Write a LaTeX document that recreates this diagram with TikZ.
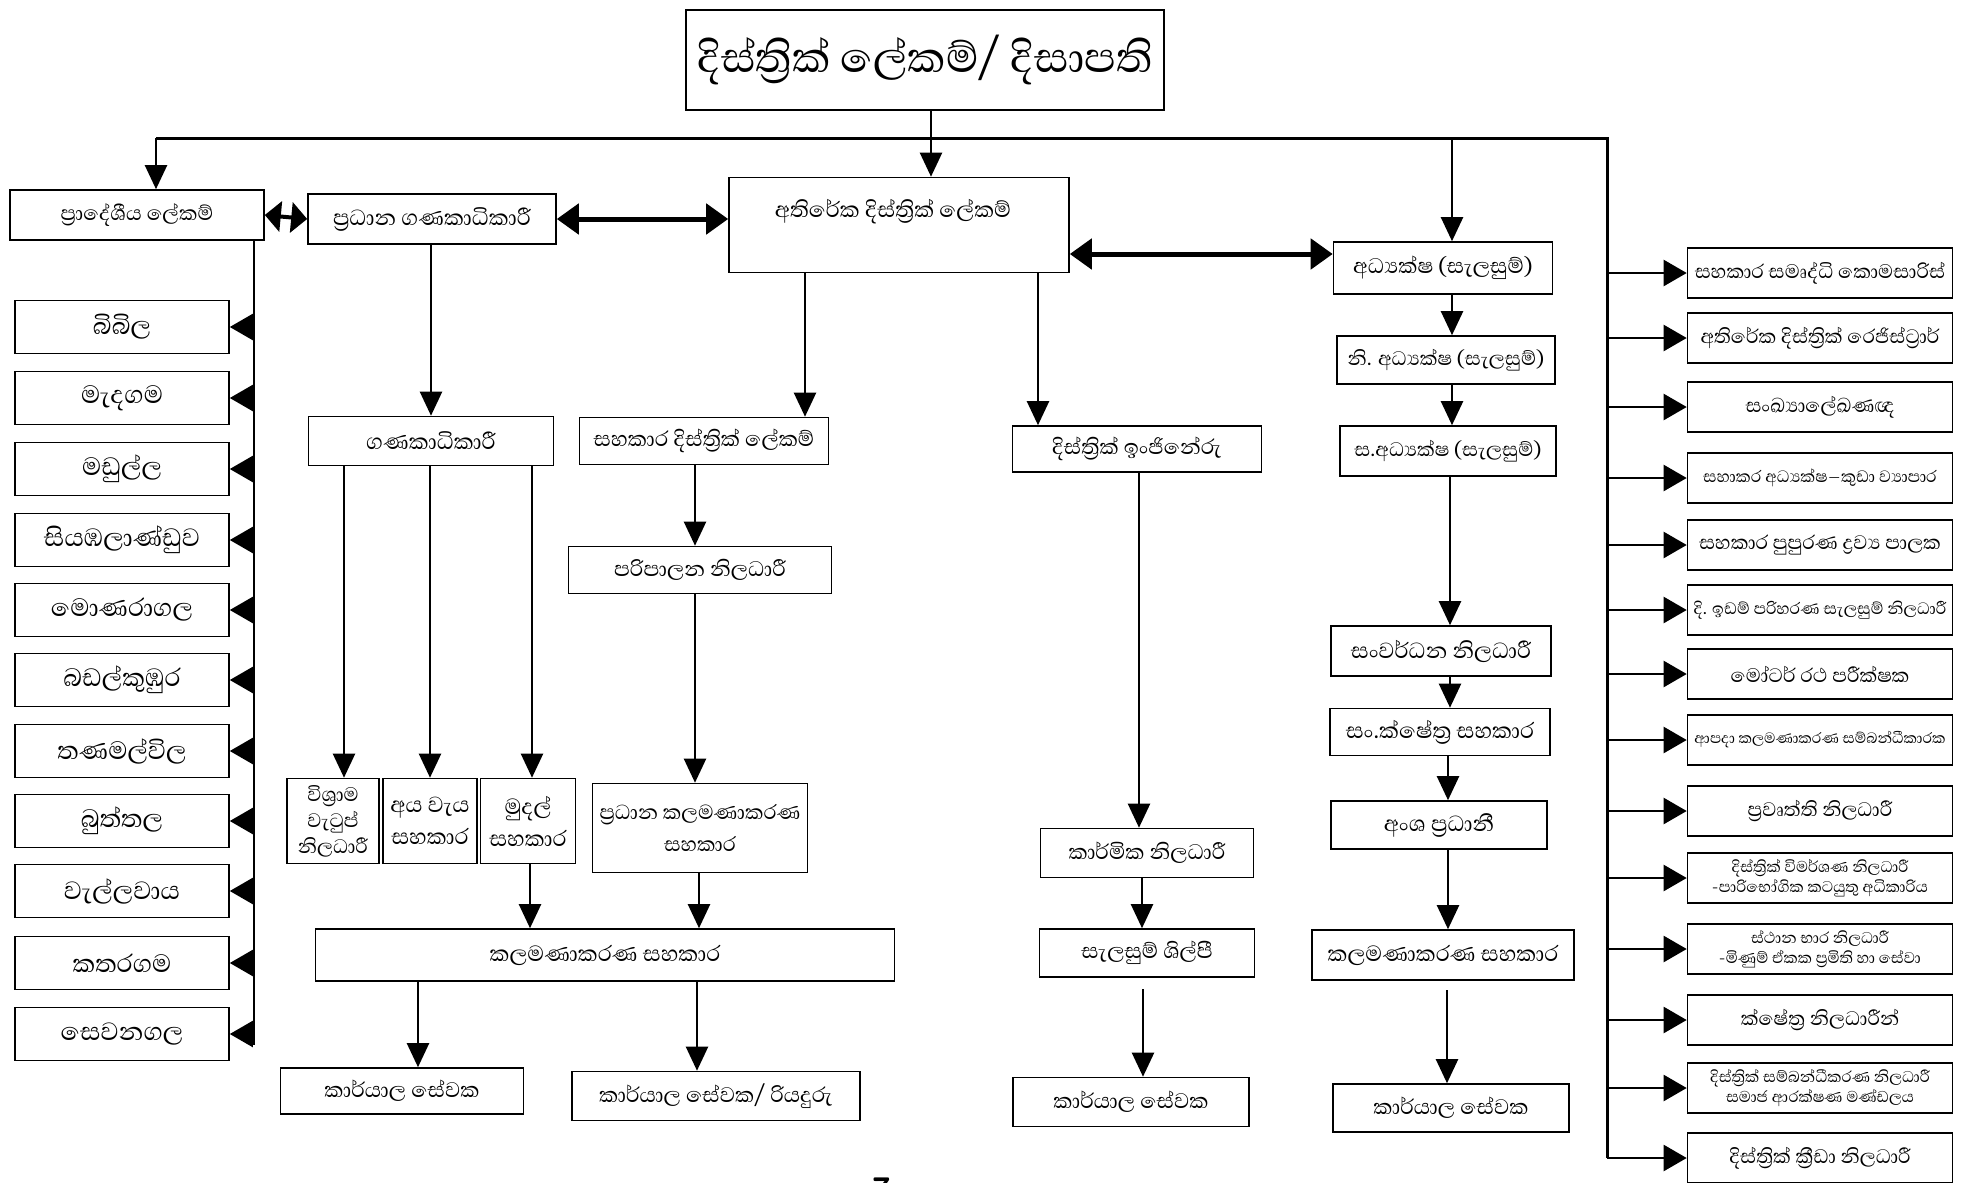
\documentclass[tikz,border=0pt]{standalone}
\usepackage{fontspec}
\setmainfont[Script=Sinhala]{Abhaya Libre}
\usetikzlibrary{arrows.meta}
\begin{document}
\begin{tikzpicture}[x=1pt,y=-1pt,
  bx/.style={draw, line width=1.6pt, inner sep=0pt, align=center, font=\fontsize{27}{29}\selectfont},
  rb/.style={bx, minimum width=265, minimum height=50, font=\fontsize{25}{26}\selectfont},
  rbs/.style={bx, minimum width=265, minimum height=50, font=\fontsize{21}{22}\selectfont},
  rbt/.style={bx, minimum width=265, minimum height=50, font=\fontsize{19}{20}\selectfont},
  rb2/.style={bx, minimum width=265, minimum height=50, font=\fontsize{20}{20}\selectfont},
  lb/.style={bx, minimum width=214, minimum height=53, font=\fontsize{32}{34}\selectfont},
  arr/.style={line width=2.2pt, -{Triangle[length=24pt,width=22pt]}},
  harr/.style={line width=2.2pt, -{Triangle[length=23pt,width=26pt]}},
  bus/.style={line width=3pt},
  dbl/.style={line width=5pt, {Triangle[length=22pt,width=30pt]}-{Triangle[length=22pt,width=30pt]}},
]
\useasboundingbox[fill=white] (0,0) rectangle (1963,1183);

% top
\node[bx, minimum width=478, minimum height=100, font=\fontsize{54}{56}\selectfont] (title) at (925,60) {දිස්ත්^^^^200dරික් ලේකම්/ දිසාපති};
\coordinate (bl) at (156,138);
\coordinate (bm) at (931,138);
\coordinate (bd) at (1452,138);
\coordinate (br) at (1607,138);
\coordinate (brb) at (1607,1158);
\draw[bus] (bl) -- (br) -- (brb);

% level 1
\node[bx, minimum width=254, minimum height=50, font=\fontsize{26}{28}\selectfont] (b1) at (137,215) {ප්^^^^200dරාදේශීය ලේකම්};
\node[bx, minimum width=248, minimum height=50, font=\fontsize{28}{30}\selectfont] (b2) at (432,219) {ප්^^^^200dරධාන ගණකාධිකාරී};
\node[bx, minimum width=340, minimum height=95] (b3) at (899,225) {};
\node[font=\fontsize{28}{30}\selectfont] (b3t) at (893,212) {අතිරේක දිස්ත්^^^^200dරික් ලේකම්};
\node[bx, minimum width=219, minimum height=52] (adh) at (1443,268) {අධ්^^^^200dයක්ෂ (සැලසුම්)};

\draw[line width=2pt] (title.south -| bm) -- (bm);
\draw[arr] (bm) -- (b3.north -| bm);
\draw[arr] (bl) -- (b1.north -| bl);
\draw[arr] (bd) -- (adh.north -| bd);

\draw[line width=4pt, {Triangle[length=16pt,width=30pt]}-{Triangle[length=16pt,width=30pt]}] (b1.east) -- (b2.west);
\draw[dbl] (b2.east) -- (b3.west |- b2.east);
\draw[dbl] (b3.east |- 0,254) -- (adh.west |- 0,254);

% left column
\coordinate (lv) at (254,240);
\coordinate (lvb) at (254,1045);
\draw[line width=2.4pt] (lv) -- (lvb);
\foreach \n/\y/\t in {l1/327/බිබිල, l2/398/මැදගම, l3/469/මඩුල්ල, l4/540/සියඹලාණ්ඩුව, l5/610/මොණරාගල, l6/680/බඩල්කුඹුර, l7/751/තණමල්විල, l8/821/බුත්තල, l9/891/වැල්ලවාය, l10/963/කතරගම, l11/1034/සෙවනගල}{
  \node[lb] (\n) at (122,\y) {\t};
  \draw[harr] (lv |- \n.east) -- (\n.east);
}

% accountant branch
\node[bx, minimum width=245, minimum height=49, font=\fontsize{28}{30}\selectfont] (gan) at (431,441) {ගණකාධිකාරී};
\draw[arr] (b2.south -| gan) -- (gan.north);
\node[bx, minimum width=92, minimum height=85, font=\fontsize{25}{26}\selectfont] (vw) at (333,821) {විශ්^^^^200dරාම\\වැටුප්\\නිලධාරී};
\node[bx, minimum width=94, minimum height=85, font=\fontsize{28}{30}\selectfont] (ayv) at (430,821) {අය වැය\\[2pt]සහකාර};
\node[bx, minimum width=95, minimum height=85, font=\fontsize{28}{30}\selectfont] (mud) at (528,821) {මුදල්\\[2pt]සහකාර};
\draw[arr] (gan.south -| 344,0) -- (vw.north -| 344,0);
\draw[arr] (gan.south -| ayv) -- (ayv.north);
\draw[arr] (gan.south -| 532,0) -- (mud.north -| 532,0);

\node[bx, minimum width=579, minimum height=52, font=\fontsize{28}{30}\selectfont] (ks1) at (605,955) {කලමණාකරණ සහකාර};
\draw[arr] (mud.south -| 530,0) -- (ks1.north -| 530,0);
\node[bx, minimum width=243, minimum height=46] (ko1) at (402,1091) {කාර්යාල සේවක};
\node[bx, minimum width=288, minimum height=49] (ko2) at (716,1096) {කාර්යාල සේවක/ රියදුරු};
\draw[arr] (ks1.south -| 418,0) -- (ko1.north -| 418,0);
\draw[arr] (ks1.south -| 697,0) -- (ko2.north -| 697,0);

% assistant DS branch
\node[bx, minimum width=249, minimum height=47] (sds) at (704,441) {සහකාර දිස්ත්^^^^200dරික් ලේකම්};
\draw[arr] (b3.south -| 805,0) -- (sds.north -| 805,0);
\node[bx, minimum width=263, minimum height=47] (po) at (700,570) {පරිපාලන නිලධාරී};
\draw[arr] (sds.south -| 695,0) -- (po.north -| 695,0);
\node[bx, minimum width=215, minimum height=89, font=\fontsize{26}{28}\selectfont] (pks) at (700,828) {ප්^^^^200dරධාන කලමණාකරණ\\[4pt]සහකාර};
\draw[arr] (po.south -| 695,0) -- (pks.north -| 695,0);
\draw[arr] (pks.south -| 699,0) -- (ks1.north -| 699,0);

% engineer branch
\node[bx, minimum width=249, minimum height=46] (den) at (1137,449) {දිස්ත්^^^^200dරික් ඉංජිනේරු};
\draw[arr] (b3.south -| 1038,0) -- (den.north -| 1038,0);
\node[bx, minimum width=213, minimum height=49] (kn) at (1147,853) {කාර්මික නිලධාරී};
\draw[arr] (den.south -| 1139,0) -- (kn.north -| 1139,0);
\node[bx, minimum width=215, minimum height=48] (ss) at (1147,953) {සැලසුම් ශිල්පී};
\draw[arr] (kn.south -| 1142,0) -- (ss.north -| 1142,0);
\node[bx, minimum width=236, minimum height=49] (ko3) at (1131,1102) {කාර්යාල සේවක};
\draw[arr] (1143,989) -- (ko3.north -| 1143,0);

% planning branch
\node[bx, minimum width=218, minimum height=48, font=\fontsize{25}{27}\selectfont] (nadh) at (1446,360) {නි. අධ්^^^^200dයක්ෂ (සැලසුම්)};
\node[bx, minimum width=216, minimum height=50, font=\fontsize{25}{27}\selectfont] (sadh) at (1448,451) {ස.අධ්^^^^200dයක්ෂ (සැලසුම්)};
\node[bx, minimum width=220, minimum height=50, font=\fontsize{28}{30}\selectfont] (snl) at (1441,651) {සංවර්ධන නිලධාරී};
\node[bx, minimum width=220, minimum height=47, font=\fontsize{28}{30}\selectfont] (ssk) at (1440,732) {සං.ක්ෂේත්^^^^200dර සහකාර};
\node[bx, minimum width=216, minimum height=48, font=\fontsize{28}{30}\selectfont] (ap) at (1439,825) {අංශ ප්^^^^200dරධානී};
\node[bx, minimum width=262, minimum height=50, font=\fontsize{28}{30}\selectfont] (ks2) at (1443,955) {කලමණාකරණ සහකාර};
\node[bx, minimum width=236, minimum height=48] (ko4) at (1451,1108) {කාර්යාල සේවක};
\draw[arr] (adh.south -| 1452,0) -- (nadh.north -| 1452,0);
\draw[arr] (nadh.south -| 1452,0) -- (sadh.north -| 1452,0);
\draw[arr] (sadh.south -| 1450,0) -- (snl.north -| 1450,0);
\draw[arr] (snl.south -| 1450,0) -- (ssk.north -| 1450,0);
\draw[arr] (ssk.south -| 1448,0) -- (ap.north -| 1448,0);
\draw[arr] (ap.south -| 1448,0) -- (ks2.north -| 1448,0);
\draw[arr] (1447,990) -- (ko4.north -| 1447,0);

% right column
\foreach \n/\y/\s/\t in {
  r1/273/rb/සහකාර සමෘද්ධි කොමසාරිස්,
  r2/338/rb/අතිරේක දිස්ත්^^^^200dරික් රෙජිස්ට්^^^^200dරාර්,
  r3/407/rb/සංඛ්^^^^200dයාලේඛණඥ,
  r4/478/rbs/සහාකර අධ්^^^^200dයක්ෂ–කුඩා ව්^^^^200dයාපාර,
  r5/545/rb/සහකාර පුපුරණ ද්^^^^200dරව්^^^^200dය පාලක,
  r6/610/rbs/දි. ඉඩම් පරිහරණ සැලසුම් නිලධාරී,
  r7/674/rb/මෝටර් රථ පරීක්ෂක,
  r8/740/rbt/ආපදා කලමණාකරණ සම්බන්ධීකාරක,
  r9/811/rb/ප්^^^^200dරවෘත්ති නිලධාරී,
  r10/878/rb2/{දිස්ත්^^^^200dරික් විමර්ශණ නිලධාරී\\-පාරිභෝගික කටයුතු අධිකාරිය},
  r11/949/rb2/{ස්ථාන භාර නිලධාරී\\-මිණුම් ඒකක ප්^^^^200dරමිති හා සේවා},
  r12/1020/rb/ක්ෂේත්^^^^200dර නිලධාරීන්,
  r13/1088/rb2/{දිස්ත්^^^^200dරික් සම්බන්ධීකරණ නිලධාරී\\සමාජ ආරක්ෂණ මණ්ඩලය},
  r14/1158/rb/දිස්ත්^^^^200dරික් ක්^^^^200dරීඩා නිලධාරී}{
  \node[\s] (\n) at (1820,\y) {\t};
  \draw[harr] (br |- \n.west) -- (\n.west);
}

\node[font=\sffamily\bfseries\fontsize{34}{34}\selectfont] (pg) at (882,1190) {7};
\end{tikzpicture}
\end{document}
